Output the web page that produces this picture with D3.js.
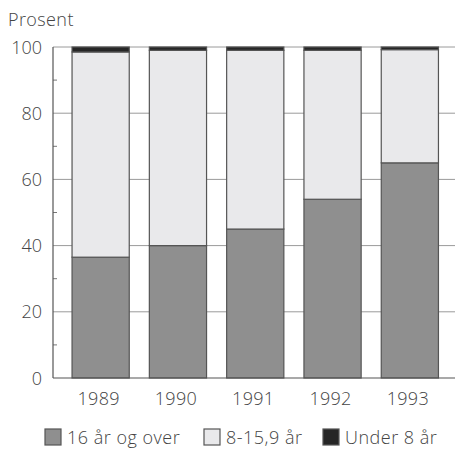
<!DOCTYPE html>
<html><head><meta charset="utf-8">
<script src="https://cdn.jsdelivr.net/npm/d3@7"></script>
<style>body{margin:0;background:#fff}svg{display:block}text{font-family:"Open Sans","Liberation Sans",Arial,sans-serif;font-weight:300;fill:#444;}</style>
</head><body><svg id="c" width="455" height="454"></svg>
<script>
const years = ["1989","1990","1991","1992","1993"];
const over16 = [36.5, 40, 45, 54, 65];
const age8to16 = [62, 59, 54, 45, 34.2];
const under8 = [1.5, 1, 1, 1, 0.8];
const seriesNames = ["16 år og over","8-15,9 år","Under 8 år"];
const yTicks = [0,20,40,60,80,100];
const colors = ["#8f8f8f","#e9e9eb","#262626"];

(function(){
const svg = d3.select("#c");
const pL = 53, pR = 455, pT = 47, pB = 378;
const x = d3.scaleBand().domain(years).range([62, 448.5]).paddingInner(0.26).paddingOuter(0.13);
const y = d3.scaleLinear().domain([0,100]).range([pB, pT]);

svg.append("g").selectAll("line").data(yTicks.slice(1)).join("line")
  .attr("x1", pL).attr("x2", pR).attr("y1", d=>y(d)).attr("y2", d=>y(d))
  .attr("stroke","#9a9a9a").attr("stroke-width",1);
svg.append("g").selectAll("line").data([10,30,50,70,90]).join("line")
  .attr("x1", pL).attr("x2", pL+4).attr("y1", d=>y(d)).attr("y2", d=>y(d))
  .attr("stroke","#777").attr("stroke-width",1);

const table = years.map((yr,i)=>({year:yr, a:over16[i], b:age8to16[i], c:under8[i]}));
const stack = d3.stack().keys(["a","b","c"])(table);
svg.append("g").selectAll("g").data(stack).join("g")
  .attr("fill",(d,i)=>colors[i])
  .selectAll("rect").data(d=>d).join("rect")
  .attr("x", d=>x(d.data.year)).attr("width", x.bandwidth())
  .attr("y", d=>y(d[1])).attr("height", d=>y(d[0])-y(d[1]))
  .attr("stroke","#555").attr("stroke-width",1.2);

svg.append("line").attr("x1",pL).attr("x2",pL).attr("y1",pT).attr("y2",pB).attr("stroke","#555").attr("stroke-width",1.2);
svg.append("line").attr("x1",pL).attr("x2",pR).attr("y1",pB).attr("y2",pB).attr("stroke","#555").attr("stroke-width",1.2);

svg.append("g").selectAll("text").data(yTicks).join("text")
  .attr("x", 42).attr("y", d=>y(d)+6.5).attr("text-anchor","end")
  .attr("font-size",18).text(d=>d);
svg.append("text").attr("x",8).attr("y",26).attr("font-size",18).attr("letter-spacing",0.4).text("Prosent");

svg.append("g").selectAll("text").data(years).join("text")
  .attr("x", d=>x(d)+x.bandwidth()/2 - 2).attr("y", 405).attr("text-anchor","middle")
  .attr("font-size",18).attr("letter-spacing",0.3).text(d=>d);

const legX = [45, 204, 323];
const lg = svg.append("g").selectAll("g").data(seriesNames).join("g")
  .attr("transform",(d,i)=>`translate(${legX[i]},429)`);
lg.append("rect").attr("width",16).attr("height",16).attr("fill",(d,i)=>colors[i]).attr("stroke","#555").attr("stroke-width",1.2);
lg.append("text").attr("x",22).attr("y",15).attr("font-size",18).attr("letter-spacing",0.5).text(d=>d);
})();
</script></body></html>
